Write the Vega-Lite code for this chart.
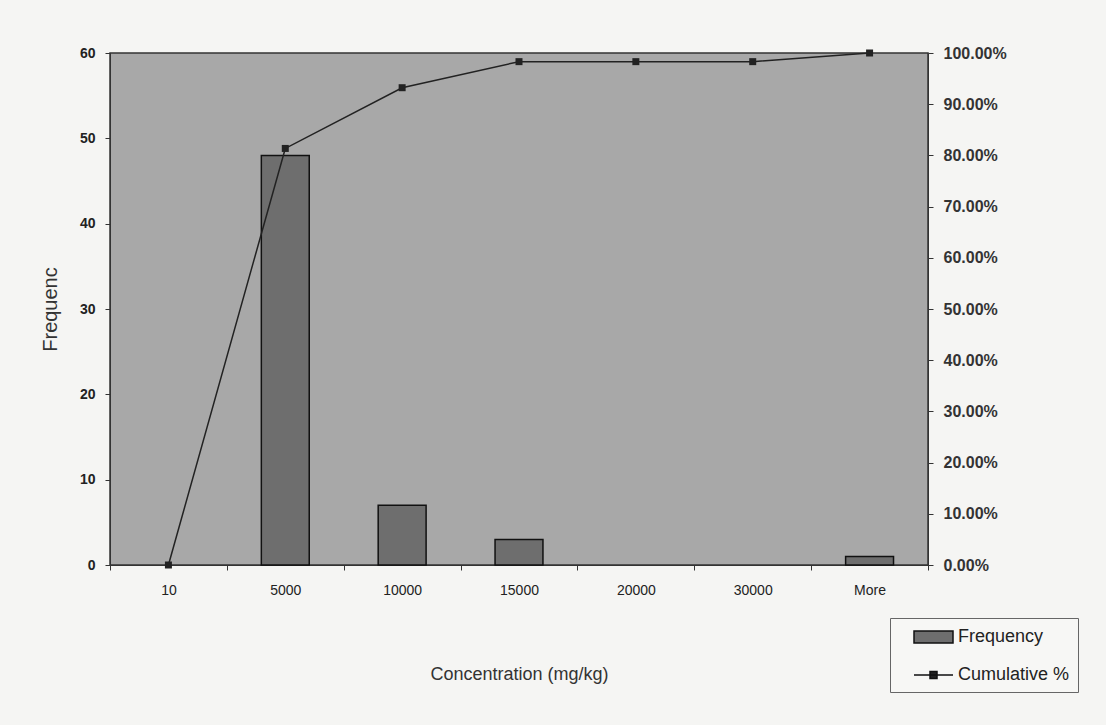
{
  "$schema": "https://vega.github.io/schema/vega-lite/v6.json",
  "autosize": "none",
  "padding": {"left": 110, "top": 53, "right": 178, "bottom": 160},
  "width": 818,
  "height": 512,
  "background": "#f5f5f3",
  "config": {
    "font": "Liberation Sans",
    "view": {"fill": "#a8a8a8", "stroke": "#333", "strokeWidth": 1.5},
    "axis": {"labelFont": "Liberation Sans", "titleFont": "Liberation Sans", "labelColor": "#222", "titleColor": "#333", "domainColor": "#333", "tickColor": "#333", "grid": false, "titleFontWeight": "normal"}
  },
  "data": {
    "values": [
      {"bin": "10", "freq": 0, "cum": 0},
      {"bin": "5000", "freq": 48, "cum": 0.8136},
      {"bin": "10000", "freq": 7, "cum": 0.9322},
      {"bin": "15000", "freq": 3, "cum": 0.9831},
      {"bin": "20000", "freq": 0, "cum": 0.9831},
      {"bin": "30000", "freq": 0, "cum": 0.9831},
      {"bin": "More", "freq": 1, "cum": 1.0}
    ]
  },
  "encoding": {
    "x": {
      "field": "bin", "type": "nominal", "sort": ["10", "5000", "10000", "15000", "20000", "30000", "More"],
      "scale": {"paddingInner": 0, "paddingOuter": 0},
      "axis": {"title": "Concentration (mg/kg)", "labelAngle": 0, "labelFontSize": 14, "labelPadding": 13, "tickSize": 5, "tickBand": "extent", "titleFontSize": 18, "titlePadding": 68, "domain": true}
    }
  },
  "layer": [
    {
      "transform": [{"filter": "datum.freq > 0"}],
      "mark": {"type": "bar", "width": {"band": 0.41}, "stroke": "#111", "strokeWidth": 1.5, "fill": "#6e6e6e"},
      "encoding": {
        "y": {"field": "freq", "type": "quantitative", "scale": {"domain": [0, 60]},
          "axis": {"title": "Frequenc", "values": [0, 10, 20, 30, 40, 50, 60], "labelFontSize": 14, "labelFontWeight": "bold", "labelPadding": 10, "tickSize": 5, "titleFontSize": 20, "titlePadding": 19}}
      }
    },
    {
      "mark": {"type": "line", "color": "#222", "strokeWidth": 1.5, "point": {"shape": "square", "size": 49, "filled": true, "color": "#222"}},
      "encoding": {
        "y": {"field": "cum", "type": "quantitative", "scale": {"domain": [0, 1]},
          "axis": {"orient": "right", "title": null, "format": ".2%", "values": [0, 0.1, 0.2, 0.3, 0.4, 0.5, 0.6, 0.7, 0.8, 0.9, 1.0], "labelFontSize": 16, "labelFontWeight": "bold", "labelColor": "#333", "labelPadding": 10, "tickSize": 5}}
      }
    },
    {
      "transform": [{"filter": "false"}],
      "mark": {"type": "point", "filled": true, "opacity": 1, "stroke": "#111", "strokeWidth": 1.5},
      "encoding": {
        "color": {"field": "series", "type": "nominal",
          "scale": {"domain": ["Frequency", "Cumulative %"], "range": ["#6e6e6e", "#222222"]},
          "legend": {
            "title": null, "orient": "none", "legendX": 780, "legendY": 565,
            "labelFontSize": 18, "labelColor": "#222", "labelFont": "Liberation Sans",
            "symbolSize": 400, "rowPadding": 18, "labelOffset": 38,
            "symbolStrokeColor": "#111", "symbolStrokeWidth": 1.5,
            "padding": 8, "strokeColor": "#666", "fillColor": "#f7f7f5"
          }},
        "shape": {"field": "series", "type": "nominal",
          "scale": {"domain": ["Frequency", "Cumulative %"], "range": ["M0.5,-0.6H4.4V0.6H0.5Z", "M0.5,0H4.4M2.1,-0.35H2.8V0.35H2.1Z"]},
          "legend": {
            "title": null, "orient": "none", "legendX": 780, "legendY": 565,
            "labelFontSize": 18, "labelColor": "#222", "labelFont": "Liberation Sans",
            "symbolSize": 400, "rowPadding": 18, "labelOffset": 38,
            "symbolStrokeColor": "#111", "symbolStrokeWidth": 1.5,
            "padding": 8, "strokeColor": "#666", "fillColor": "#f7f7f5"
          }}
      }
    }
  ],
  "resolve": {"scale": {"y": "independent"}}
}
